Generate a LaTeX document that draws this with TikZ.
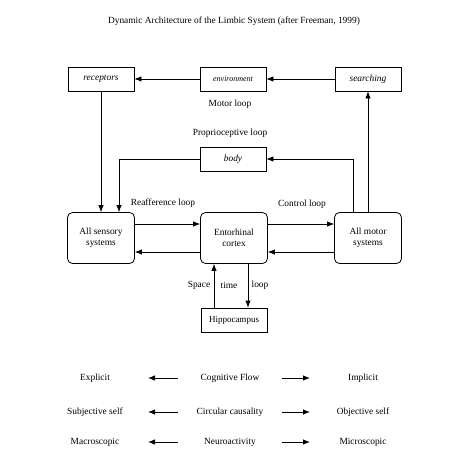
\documentclass[tikz,border=0pt]{standalone}
\usepackage{fontspec}
\setmainfont{Liberation Serif}
\usetikzlibrary{arrows.meta}

\begin{document}
\begin{tikzpicture}[x=1pt,y=-1pt,
    font=\fontsize{9.4}{11}\selectfont,
    plainbox/.style={draw,thick,minimum width=66pt,minimum height=24pt,inner sep=1pt,font=\fontsize{9.4}{11}\selectfont\itshape},
    roundbox/.style={draw,thick,rounded corners=5pt,minimum width=67pt,minimum height=51pt,align=center,inner sep=1pt},
    arr/.style={thick,-{Latex[length=7pt,width=5.5pt]}}]
    \useasboundingbox (0,0) rectangle (450,450);

    % draw title
    \node (title) at (234,21) {Dynamic Architecture of the Limbic System (after Freeman, 1999)};

    % draw top row
    \node[plainbox] (rec) at (101,79) {receptors};
    \node[plainbox] (env) at (233,79) {\fontsize{8}{9}\selectfont environment};
    \node[plainbox] (search) at (368,79) {searching};
    \node[plainbox] (body) at (233,159) {body};

    % draw middle row
    \node[roundbox] (sens) at (101,238) {All sensory\\systems};
    \node[roundbox] (ent) at (234,238) {Entorhinal\\cortex};
    \node[roundbox] (motor) at (368,238) {All motor\\systems};
    \node[plainbox,font=\fontsize{9}{10}\selectfont] (hip) at (234,320) {Hippocampus};

    % draw loop labels
    \node (motorloop) at (230,104) {Motor loop};
    \node (proploop) at (230,133) {Proprioceptive loop};
    \node (reafloop) at (163,203) {Reafference loop};
    \node (ctrlloop) at (302,204) {Control loop};
    \node (space) at (199,285) {Space};
    \node (time) at (229,285) {time};
    \node (loop) at (260,285) {loop};

    % draw connectors
    \draw[arr] (env) -- (rec);
    \draw[arr] (search) -- (env);
    \draw[arr] (rec.south) -- (sens.north);
    \draw[arr] (body.west) -| ([xshift=18pt]sens.north);
    \draw[arr] ([xshift=-15pt]motor.north) |- (body.east);
    \draw[arr] (motor.north) -- (search.south);
    \draw[arr] ([yshift=14pt]sens.east) -- ([yshift=14pt]ent.west);
    \draw[arr] ([yshift=-14pt]ent.west) -- ([yshift=-14pt]sens.east);
    \draw[arr] ([yshift=14pt]ent.east) -- ([yshift=14pt]motor.west);
    \draw[arr] ([yshift=-14pt]motor.west) -- ([yshift=-14pt]ent.east);
    \draw[arr] ([xshift=-20pt]hip.north) -- ([xshift=-20pt]ent.south);
    \draw[arr] ([xshift=14pt]ent.south) -- ([xshift=14pt]hip.north);

    % draw bottom rows
    \foreach \y/\l/\c/\r [count=\i] in {378/Explicit/Cognitive Flow/Implicit,
        412/Subjective self/Circular causality/Objective self,
        442/Macroscopic/Neuroactivity/Microscopic}
    {
        \node (left\i) at (95,\y) {\l};
        \node (mid\i) at (230,\y) {\c};
        \node (right\i) at (363,\y) {\r};
        \coordinate (la\i) at (178,\y);
        \coordinate (lb\i) at (148,\y);
        \coordinate (ra\i) at (282,\y);
        \coordinate (rb\i) at (310,\y);
        \draw[arr] (la\i) -- (lb\i);
        \draw[arr] (ra\i) -- (rb\i);
    }
\end{tikzpicture}
\end{document}
